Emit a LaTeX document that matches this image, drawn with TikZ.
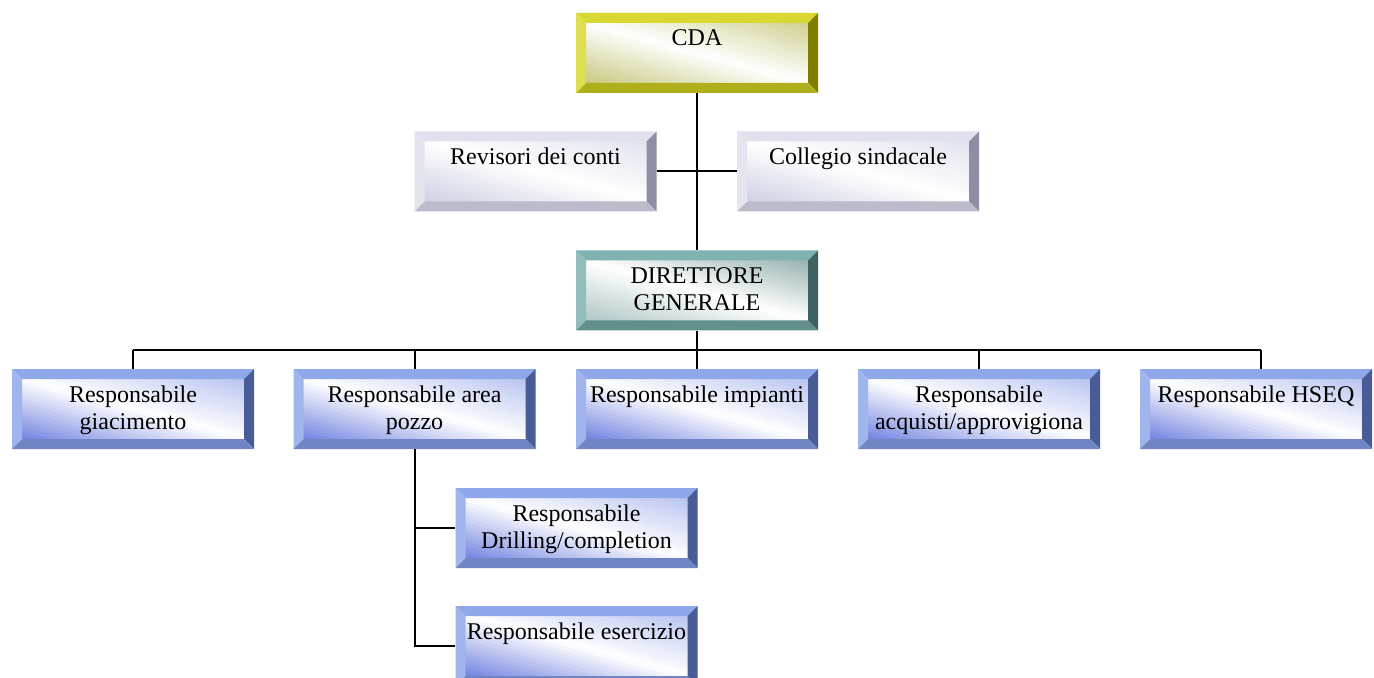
\documentclass[tikz,border=0pt]{standalone}
\usepackage{fontspec}
\setmainfont{Liberation Serif}
\usetikzlibrary{calc}

\definecolor{bluL}{HTML}{8FA8EA}
\definecolor{bluD}{HTML}{4A5C96}
\definecolor{bluI}{HTML}{7383E0}
\definecolor{bluJ}{HTML}{B8C4F0}
\definecolor{gryL}{HTML}{E0E0EE}
\definecolor{gryD}{HTML}{8E8EA2}
\definecolor{gryI}{HTML}{CFCFE4}
\definecolor{gryJ}{HTML}{E2E2F0}
\definecolor{yelL}{HTML}{D8D832}
\definecolor{yelD}{HTML}{7E7E00}
\definecolor{yelI}{HTML}{C8C880}
\definecolor{yelJ}{HTML}{D0D090}
\definecolor{teaL}{HTML}{80B2B2}
\definecolor{teaD}{HTML}{3E6262}
\definecolor{teaI}{HTML}{B0C6C6}
\definecolor{teaJ}{HTML}{98B2B2}

% bevelled frame drawn inside the node path
\newcommand\bevelpic[4]{%
  \coordinate (bsw) at (path picture bounding box.south west);
  \coordinate (bne) at (path picture bounding box.north east);
  \coordinate (isw) at ($(bsw)+(5pt,5pt)$);
  \coordinate (ine) at ($(bne)+(-5pt,-5pt)$);
  \pgfmathsetlengthmacro\bevw{\boxw-10pt}
  \begin{scope}
    \clip ($(isw)+(-1pt,-1pt)$) rectangle ($(ine)+(1pt,1pt)$);
    \foreach \i in {0,...,29}{
      \pgfmathsetmacro\ta{\i/15}
      \pgfmathsetmacro\tb{(\i+1.4)/15}
      \pgfmathsetmacro\tm{(\i+0.5)/15}
      \pgfmathsetmacro\pc{100*abs(1-\tm)}
      \ifdim\tm pt<1pt \colorlet{bandc}{#3!\pc!white}\else\colorlet{bandc}{#4!\pc!white}\fi
      \fill[bandc] ($(isw)+({(\ta+1)*\bevw},-30pt)$) -- ($(isw)+({(\tb+1)*\bevw},-30pt)$)
        -- ($(isw)+({(\tb-2)*\bevw},60pt)$) -- ($(isw)+({(\ta-2)*\bevw},60pt)$) -- cycle;
    }
  \end{scope}
  \fill[#1] (bsw|-bne) -- (bne) -- (ine) -- (isw|-ine) -- cycle;
  \fill[#1!85!white] (bsw) -- (bsw|-bne) -- (isw|-ine) -- (isw) -- cycle;
  \fill[#2] (bne) -- (bne|-bsw) -- (ine|-isw) -- (ine) -- cycle;
  \fill[#1!55!#2] (bne|-bsw) -- (bsw) -- (isw) -- (ine|-isw) -- cycle;
}

\tikzset{
  box width/.store in=\boxw, box width=121pt,
  boxnode/.style={inner sep=0pt, fill=white,
    execute at begin node={\begin{minipage}[t][40pt][t]{\boxw}\centering\fontsize{12}{13.6}\selectfont\rule{0pt}{16.5pt}},
    execute at end node={\end{minipage}}},
  bluebox/.style={boxnode, path picture={\bevelpic{bluL}{bluD}{bluI}{bluJ}}},
  graybox/.style={boxnode, path picture={\bevelpic{gryL}{gryD}{gryI}{gryJ}}},
  yelbox/.style={boxnode, path picture={\bevelpic{yelL}{yelD}{yelI}{yelJ}}},
  tealbox/.style={boxnode, path picture={\bevelpic{teaL}{teaD}{teaI}{teaJ}}},
  link/.style={line width=1pt}
}

\begin{document}
\begin{tikzpicture}[x=0.5pt, y=-0.5pt]
  \useasboundingbox (0,0) rectangle (1374,678);

  \node[yelbox] (cda) at (697,53) {CDA};
  \node[graybox] (rev) at (535.5,171.5) {Revisori dei conti};
  \node[graybox] (coll) at (858,171.5) {Collegio sindacale};
  \node[tealbox] (dg) at (697,290.5) {DIRETTORE\\GENERALE};

  \node[bluebox] (giac) at (133,409) {Responsabile\\giacimento};
  \node[bluebox] (pozzo) at (414.5,409) {Responsabile area\\pozzo};
  \node[bluebox] (imp) at (697,409) {Responsabile impianti};
  \node[bluebox] (acq) at (979,409) {Responsabile\\acquisti/approvigiona};
  \node[bluebox, box width=116pt] (hseq) at (1256,409) {Responsabile HSEQ};

  \node[bluebox] (drill) at (576.5,528) {Responsabile\\Drilling/completion};
  \node[bluebox] (eserc) at (576.5,646) {Responsabile esercizio};

  % connectors
  \coordinate (bus) at (697,349.5);
  \draw[link] (cda) -- (dg);
  \draw[link] (rev) -- (coll);
  \draw[link] (dg) -- (dg |- bus);
  \draw[link] (giac.north |- bus) -- ([xshift=2.5pt]hseq.north |- bus);
  \foreach \n in {giac,pozzo,imp,acq}
    \draw[link] (\n) -- (\n |- bus);
  \draw[link] ([xshift=2.5pt]hseq.north) -- ([xshift=2.5pt]hseq.north |- bus);
  \draw[link] (pozzo) |- (eserc);
  \draw[link] (pozzo.south |- drill) -- (drill);
\end{tikzpicture}
\end{document}
